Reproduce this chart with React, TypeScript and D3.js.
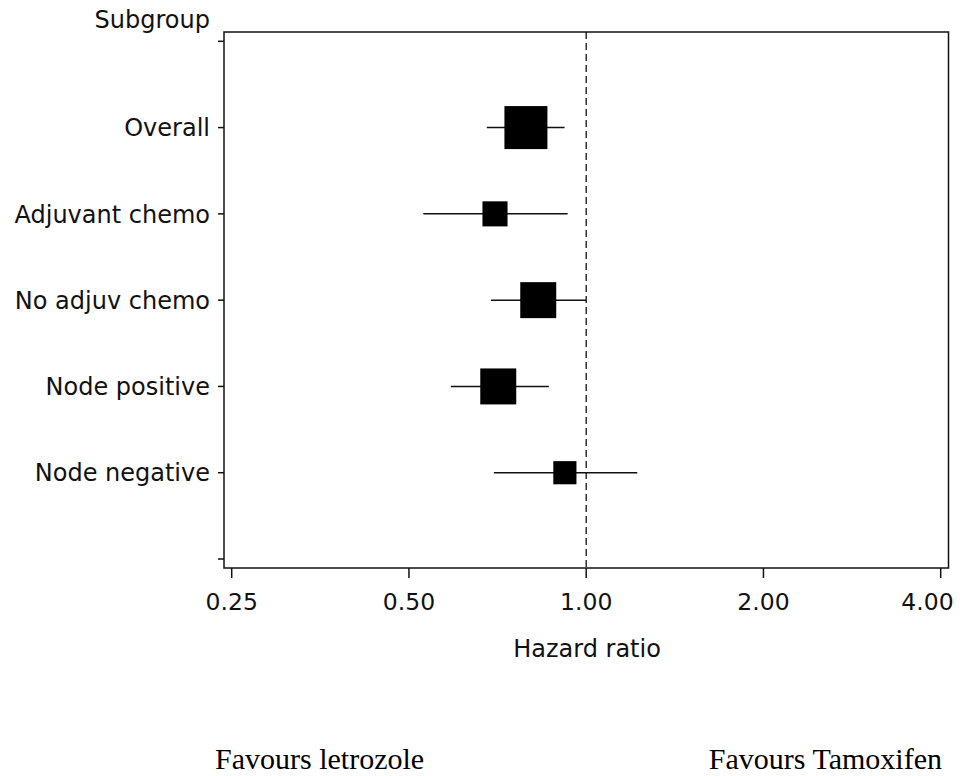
import React from "react";
import * as d3 from "d3";

// ---- data ----
const subgroups = ["Overall", "Adjuvant chemo", "No adjuv chemo", "Node positive", "Node negative"];
const hazardRatio = [0.79, 0.70, 0.829, 0.709, 0.92];
const lowerCI = [0.678, 0.529, 0.689, 0.589, 0.697];
const upperCI = [0.919, 0.93, 1.0, 0.864, 1.221];
const weights = [100, 34, 70, 70, 29];
const xTicks = [0.25, 0.5, 1, 2, 4];

const W = 960;
const H = 776;
const FRAME = { left: 224, right: 948.5, top: 32, bottom: 568 };
const SANS = "'DejaVu Sans', sans-serif";

export default function App() {
  const x = d3.scaleLog().base(2).domain([0.25, 4]).range([231.7, 940.7]);
  const y = d3.scaleLinear().domain([0, 6]).range([41.3, 559]);
  const size = d3.scaleSqrt().domain([0, 100]).range([0, 43]);
  const fmt = d3.format(".2f");
  const yTickIdx = d3.range(0, 7);
  const labelMaxRight = 954;
  const halfLabel = 26.5;

  return (
    <svg
      width={W}
      height={H}
      style={{ position: "absolute", left: 0, top: 0, background: "#fff" }}
      fontFamily={SANS}
    >
      <rect x={0} y={0} width={W} height={H} fill="#fff" />
      {/* frame */}
      <rect
        x={FRAME.left}
        y={FRAME.top}
        width={FRAME.right - FRAME.left}
        height={FRAME.bottom - FRAME.top}
        fill="none"
        stroke="#111"
        strokeWidth={1.5}
      />
      {/* reference line at HR = 1 */}
      <line
        x1={x(1)}
        x2={x(1)}
        y1={FRAME.top}
        y2={FRAME.bottom}
        stroke="#111"
        strokeWidth={1.3}
        strokeDasharray="7,4"
      />
      {/* y ticks */}
      {yTickIdx.map((i) => (
        <line key={"yt" + i} x1={FRAME.left - 6} x2={FRAME.left} y1={y(i)} y2={y(i)} stroke="#111" strokeWidth={1.5} />
      ))}
      {/* y labels */}
      {subgroups.map((s, i) => (
        <text key={"yl" + i} x={210} y={y(i + 1)} dy="0.36em" textAnchor="end" fontSize={24} fill="#111">
          {s}
        </text>
      ))}
      <text x={210} y={27.7} textAnchor="end" fontSize={24} fill="#111">
        Subgroup
      </text>
      {/* x ticks */}
      {xTicks.map((t) => {
        const lx = Math.min(x(t), labelMaxRight - halfLabel);
        return (
          <g key={"xt" + t}>
            <line x1={x(t)} x2={x(t)} y1={FRAME.bottom} y2={FRAME.bottom + 10} stroke="#111" strokeWidth={1.5} />
            <text x={lx} y={610} textAnchor="middle" fontSize={23.5} fill="#111">
              {fmt(t)}
            </text>
          </g>
        );
      })}
      <text x={587} y={656.7} textAnchor="middle" fontSize={24} fill="#111">
        Hazard ratio
      </text>
      {/* CI whiskers and boxes */}
      {subgroups.map((s, i) => {
        const cy = y(i + 1);
        const sz = size(weights[i]);
        return (
          <g key={"m" + i}>
            <line x1={x(lowerCI[i])} x2={x(upperCI[i])} y1={cy} y2={cy} stroke="#111" strokeWidth={1.5} />
            <rect x={x(hazardRatio[i]) - sz / 2} y={cy - sz / 2} width={sz} height={sz} fill="#000" />
          </g>
        );
      })}
      {/* favours labels */}
      <text x={215} y={769} fontSize={30} fontFamily="'Liberation Serif', 'Times New Roman', serif" fill="#000">
        Favours letrozole
      </text>
      <text
        x={942}
        y={769}
        textAnchor="end"
        fontSize={30}
        fontFamily="'Liberation Serif', 'Times New Roman', serif"
        fill="#000"
      >
        Favours Tamoxifen
      </text>
    </svg>
  );
}
